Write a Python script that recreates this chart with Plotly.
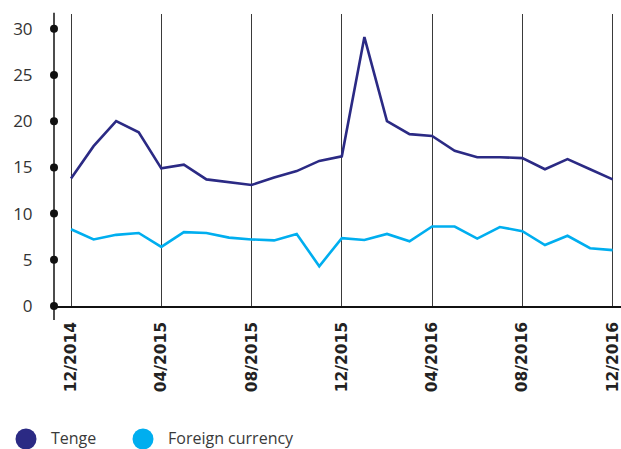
import plotly.graph_objects as go

months = ["12/2014", "01/2015", "02/2015", "03/2015", "04/2015", "05/2015", "06/2015",
          "07/2015", "08/2015", "09/2015", "10/2015", "11/2015", "12/2015", "01/2016",
          "02/2016", "03/2016", "04/2016", "05/2016", "06/2016", "07/2016", "08/2016",
          "09/2016", "10/2016", "11/2016", "12/2016"]
tenge = [13.8, 17.3, 20.0, 18.8, 14.9, 15.3, 13.7, 13.4, 13.1, 13.9, 14.6, 15.7, 16.2,
         29.1, 20.0, 18.6, 18.4, 16.8, 16.1, 16.1, 16.0, 14.8, 15.9, 14.8, 13.7]
foreign = [8.3, 7.2, 7.7, 7.9, 6.4, 8.0, 7.9, 7.4, 7.2, 7.1, 7.8, 4.3, 7.35,
           7.15, 7.8, 7.0, 8.6, 8.6, 7.3, 8.55, 8.1, 6.6, 7.6, 6.25, 6.05]
tick_labels = ["12/2014", "04/2015", "08/2015", "12/2015", "04/2016", "08/2016", "12/2016"]
y_ticks = [0, 5, 10, 15, 20, 25, 30]
series_names = ["Tenge", "Foreign currency"]
colors = ["#2b2a84", "#00aeef"]

x = list(range(len(months)))
tickvals = [months.index(t) for t in tick_labels]
x_range = [-0.754, 24.37]
y_range = [0, 31.6]

fig = go.Figure()
fig.add_trace(go.Scatter(x=x, y=tenge, mode="lines", name=series_names[0],
                         line=dict(color=colors[0], width=2.6), showlegend=False))
fig.add_trace(go.Scatter(x=x, y=foreign, mode="lines", name=series_names[1],
                         line=dict(color=colors[1], width=2.6), showlegend=False))
# dots on the y axis
fig.add_trace(go.Scatter(x=[x_range[0]] * len(y_ticks), y=y_ticks, mode="markers",
                         marker=dict(color="#111", size=8), cliponaxis=False,
                         showlegend=False, hoverinfo="skip"))

# y axis line extending below 0
fig.add_shape(type="line", xref="paper", yref="paper", x0=0, x1=0, y0=-0.048, y1=1.004,
              line=dict(color="#111", width=1.5))

# legend
leg_x = [26, 143]
for i, name in enumerate(series_names):
    fig.add_shape(type="circle", xref="paper", yref="paper", xsizemode="pixel", ysizemode="pixel",
                  xanchor=(leg_x[i] - 54) / 567, yanchor=(306 - 439) / 292,
                  x0=-10.5, x1=10.5, y0=-10.5, y1=10.5,
                  fillcolor=colors[i], line=dict(width=0))
    fig.add_annotation(xref="paper", yref="paper", x=(leg_x[i] + 23 - 54) / 567,
                       y=(306 - 438) / 292, xanchor="left", yanchor="middle",
                       text=name, showarrow=False,
                       font=dict(family="Open Sans", size=16, color="#3a3a3a"))

fig.update_layout(
    width=621, height=449,
    margin=dict(l=54, r=0, t=14, b=143, autoexpand=False),
    plot_bgcolor="white", paper_bgcolor="white",
    showlegend=False,
    xaxis=dict(range=x_range, tickvals=tickvals, ticktext=tick_labels, tickangle=-90,
               showgrid=True, gridcolor="#3a3a3a", gridwidth=1, zeroline=False,
               showline=True, linecolor="#111", linewidth=1.5, automargin=False,
               ticks="outside", ticklen=8, tickcolor="rgba(0,0,0,0)",
               ticklabeloverflow="allow",
               tickfont=dict(family="DejaVu Sans", size=15.5, color="#222", weight="bold")),
    yaxis=dict(range=y_range, tickvals=y_ticks, showgrid=False, zeroline=False,
               showline=False, ticks="outside", ticklen=17, tickcolor="rgba(0,0,0,0)",
               automargin=False,
               tickfont=dict(family="Open Sans", size=17, color="#333")),
)

# remove the default page margin so the 621x449 figure fills the window exactly
fig.write_html("out.html", config={"displayModeBar": False},
               post_script="document.body.style.margin='0';document.body.style.overflow='hidden';")
